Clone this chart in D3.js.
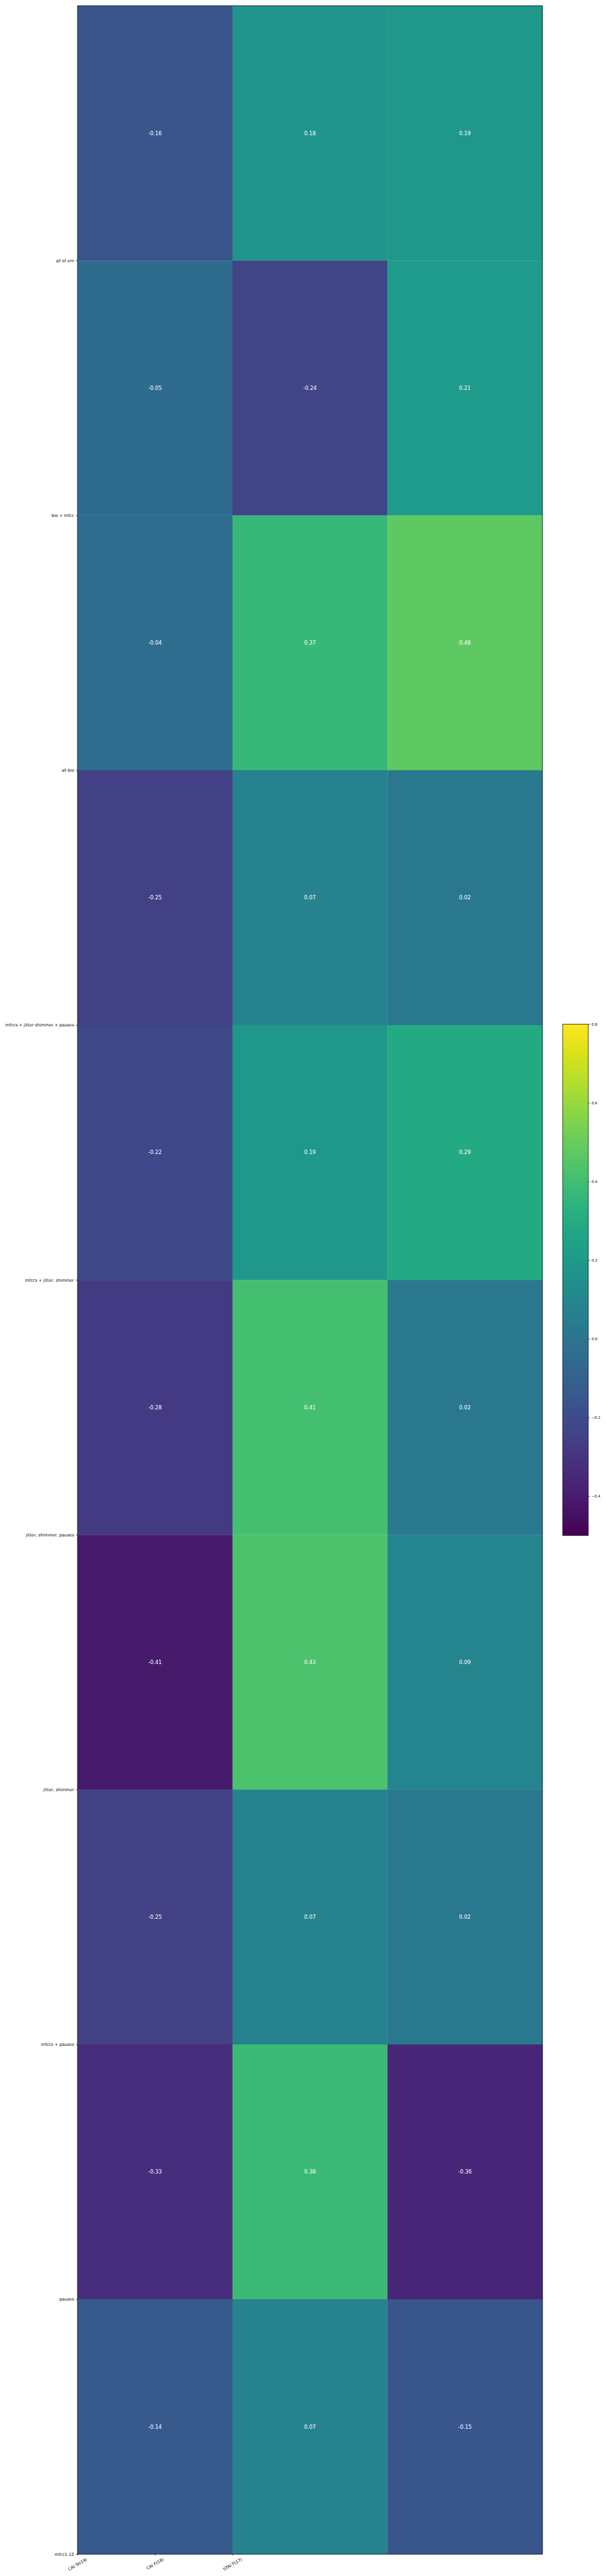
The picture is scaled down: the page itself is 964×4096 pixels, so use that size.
<!DOCTYPE html>
<html><head><meta charset="utf-8">
<script src="https://cdn.jsdelivr.net/npm/d3@7"></script>
<style>html,body{margin:0;padding:0;background:#fff;} svg{display:block;}</style>
</head><body>
<div id="chart"></div>
<script>
// ---- data ----
const rowLabels = ["all of em", "bio + mfcc", "all bio", "mfccs + jitter shimmer + pauses",
  "mfccs + jitter, shimmer", "jitter, shimmer, pauses", "jitter, shimmer", "mfccs + pauses",
  "pauses", "mfcc1-12"];
const rowTickValues = [1, 2, 3, 4, 5, 6, 7, 8, 9, 10];
const colLabels = ["CAI St(19)", "CAI F(18)", "STAI T(17)"];
const colTickValues = [0, 0.5, 1];
const valuesCol1 = [-0.16, -0.05, -0.04, -0.25, -0.22, -0.28, -0.41, -0.25, -0.33, -0.14];
const valuesCol2 = [0.18, -0.24, 0.37, 0.07, 0.19, 0.41, 0.43, 0.07, 0.38, 0.07];
const valuesCol3 = [0.19, 0.21, 0.48, 0.02, 0.29, 0.02, 0.09, 0.02, -0.36, -0.15];
const colorDomain = [-0.5, 0.8];
const colorbarTicks = [-0.4, -0.2, 0.0, 0.2, 0.4, 0.6, 0.8];

// ---- layout (reference pixel units) ----
const W = 1440, H = 6120;
const plot = {left: 184, right: 1289, top: 13.5, bottom: 6068};
const cbar = {left: 1337, right: 1398, top: 2433, bottom: 3648};
const font = "'DejaVu Sans', sans-serif";

const svg = d3.select("#chart").append("svg")
  .attr("width", 964).attr("height", 4096)
  .attr("viewBox", `0 0 ${W} ${H}`)
  .attr("preserveAspectRatio", "none");
svg.append("rect").attr("width", W).attr("height", H).attr("fill", "#fff");

const columns = [valuesCol1, valuesCol2, valuesCol3];
const cells = [];
columns.forEach((col, j) => col.forEach((v, i) => cells.push({i, j, v})));

const x = d3.scaleLinear().domain([0, columns.length]).range([plot.left, plot.right]);
const y = d3.scaleLinear().domain([0, rowLabels.length]).range([plot.top, plot.bottom]);
const color = d3.scaleSequential(d3.interpolateViridis).domain(colorDomain);

const g = svg.append("g");
g.selectAll("rect.cell").data(cells).enter().append("rect")
  .attr("class", "cell")
  .attr("x", d => x(d.j)).attr("y", d => y(d.i))
  .attr("width", d => x(d.j + 1) - x(d.j) + 0.5)
  .attr("height", d => y(d.i + 1) - y(d.i) + 0.5)
  .attr("fill", d => color(d.v));

g.selectAll("text.annot").data(cells).enter().append("text")
  .attr("class", "annot")
  .attr("x", d => (x(d.j) + x(d.j + 1)) / 2)
  .attr("y", d => (y(d.i) + y(d.i + 1)) / 2)
  .attr("text-anchor", "middle").attr("dominant-baseline", "central")
  .attr("font-family", font).attr("font-size", 12.5).attr("fill", "#fff")
  .text(d => d.v.toFixed(2));

// frame
svg.append("rect")
  .attr("x", plot.left).attr("y", plot.top)
  .attr("width", plot.right - plot.left).attr("height", plot.bottom - plot.top)
  .attr("fill", "none").attr("stroke", "#000").attr("stroke-width", 1.1);

// y axis
const yAxis = svg.append("g").attr("transform", `translate(${plot.left},0)`)
  .call(d3.axisLeft(y).tickValues(rowTickValues)
    .tickFormat(d => rowLabels[d - 1]).tickSize(3.5).tickPadding(4.5));
yAxis.select(".domain").remove();
yAxis.selectAll("line").attr("stroke", "#000").attr("stroke-width", 1.1);
yAxis.selectAll("text").attr("font-family", font).attr("font-size", 9.9).attr("fill", "#000");

// x axis
const xAxis = svg.append("g").attr("transform", `translate(0,${plot.bottom})`)
  .call(d3.axisBottom(x).tickValues(colTickValues)
    .tickFormat((d, i) => colLabels[i]).tickSize(3.5));
xAxis.select(".domain").remove();
xAxis.selectAll("line").attr("stroke", "#000").attr("stroke-width", 1.1);
xAxis.selectAll("text")
  .attr("font-family", font).attr("font-size", 9.9).attr("fill", "#000")
  .attr("text-anchor", "middle").attr("dominant-baseline", "central")
  .attr("dy", null)
  .each(function () {
    const L = this.getComputedTextLength();
    const h = 9.9 * 1.16;
    const bh = L * Math.sin(Math.PI / 6) + h * Math.cos(Math.PI / 6);
    const cy = 7 + bh / 2;
    d3.select(this).attr("y", cy).attr("transform", `rotate(-30,0,${cy})`);
  });

// colorbar
const defs = svg.append("defs");
const grad = defs.append("linearGradient").attr("id", "cbgrad")
  .attr("x1", 0).attr("y1", 1).attr("x2", 0).attr("y2", 0);
d3.range(0, 1.0001, 0.02).forEach(t => {
  grad.append("stop").attr("offset", t).attr("stop-color", d3.interpolateViridis(t));
});
const cy = d3.scaleLinear().domain(colorDomain).range([cbar.bottom, cbar.top]);
svg.append("rect")
  .attr("x", cbar.left).attr("y", cy(colorDomain[1]))
  .attr("width", cbar.right - cbar.left).attr("height", cy(colorDomain[0]) - cy(colorDomain[1]))
  .attr("fill", "url(#cbgrad)").attr("stroke", "#000").attr("stroke-width", 1.1);
const cAxis = svg.append("g").attr("transform", `translate(${cbar.right},0)`)
  .call(d3.axisRight(cy).tickValues(colorbarTicks).tickFormat(d3.format(".1f"))
    .tickSize(3.5).tickPadding(4));
cAxis.select(".domain").remove();
cAxis.selectAll("line").attr("stroke", "#000").attr("stroke-width", 1.1);
cAxis.selectAll("text").attr("font-family", font).attr("font-size", 8.6).attr("fill", "#000");
</script>
</body></html>
